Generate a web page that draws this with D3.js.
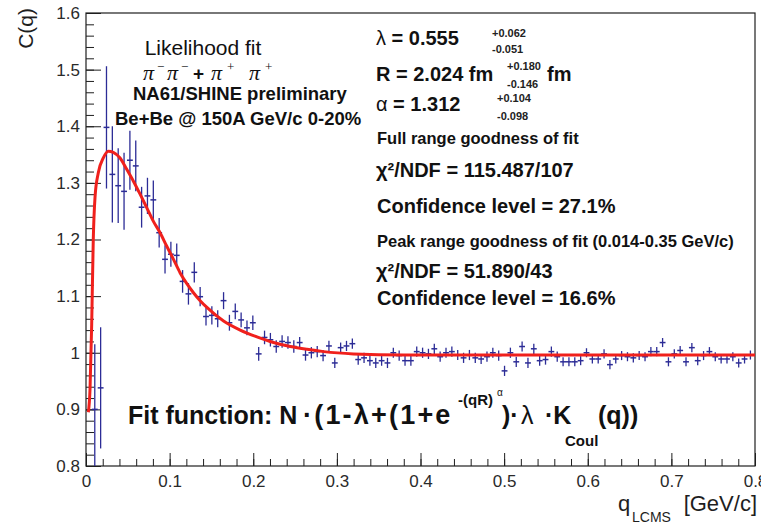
<!DOCTYPE html>
<html>
<head>
<meta charset="utf-8">
<script src="https://cdn.jsdelivr.net/npm/d3@7"></script>
<style>
  html, body { margin: 0; padding: 0; background: #fff; }
  svg { display: block; font-family: "Liberation Sans", Arial, Helvetica, sans-serif; }
</style>
</head>
<body>
<svg id="chart" width="761" height="525"></svg>
<script>

// bin centres, GeV/c
const qBins = [
  0.0105, 0.0175, 0.0245, 0.0315, 0.0385, 0.0455, 0.0525, 0.0595, 0.0665, 0.0735,
  0.0805, 0.0875, 0.0945, 0.1015, 0.1085, 0.1155, 0.1225, 0.1295, 0.1365, 0.1435,
  0.1505, 0.1575, 0.1645, 0.1715, 0.1785, 0.1855, 0.1925, 0.1995, 0.2065, 0.2135,
  0.2205, 0.2275, 0.2345, 0.2415, 0.2485, 0.2555, 0.2625, 0.2695, 0.2765, 0.2835,
  0.2905, 0.2975, 0.3045, 0.3115, 0.3185, 0.3255, 0.3325, 0.3395, 0.3465, 0.3535,
  0.3605, 0.3675, 0.3745, 0.3815, 0.3885, 0.3955, 0.4025, 0.4095, 0.4165, 0.4235,
  0.4305, 0.4375, 0.4445, 0.4515, 0.4585, 0.4655, 0.4725, 0.4795, 0.4865, 0.4935,
  0.5005, 0.5075, 0.5145, 0.5215, 0.5285, 0.5355, 0.5425, 0.5495, 0.5565, 0.5635,
  0.5705, 0.5775, 0.5845, 0.5915, 0.5985, 0.6055, 0.6125, 0.6195, 0.6265, 0.6335,
  0.6405, 0.6475, 0.6545, 0.6615, 0.6685, 0.6755, 0.6825, 0.6895, 0.6965, 0.7035,
  0.7105, 0.7175, 0.7245, 0.7315, 0.7385, 0.7455, 0.7525, 0.7595, 0.7665, 0.7735,
  0.7805, 0.7875, 0.7945
];

const cValues = [
  0.900, 0.938, 1.398, 1.315, 1.295, 1.285, 1.340, 1.330, 1.257, 1.277,
  1.270, 1.212, 1.165, 1.174, 1.172, 1.126, 1.104, 1.142, 1.099, 1.064,
  1.066, 1.060, 1.092, 1.053, 1.073, 1.058, 1.044, 1.053, 0.998, 1.027,
  1.023, 1.011, 1.020, 1.018, 1.011, 1.018, 0.996, 1.000, 1.002, 0.995,
  1.012, 0.982, 1.009, 1.012, 1.016, 0.988, 0.991, 0.986, 0.982, 0.986,
  0.982, 1.000, 0.995, 0.986, 0.986, 1.002, 1.000, 0.998, 1.007, 0.993,
  1.000, 1.002, 0.996, 0.991, 0.996, 0.991, 0.989, 0.993, 1.000, 0.995,
  0.968, 1.000, 0.984, 1.011, 0.982, 1.007, 0.986, 0.988, 1.002, 0.993,
  0.984, 0.984, 0.984, 0.986, 1.000, 0.989, 0.989, 0.998, 0.979, 0.989,
  0.995, 0.993, 0.991, 0.995, 0.993, 1.002, 1.002, 1.018, 0.984, 0.998,
  1.004, 0.984, 1.009, 0.986, 0.995, 1.002, 0.993, 0.989, 0.989, 0.993,
  0.982, 0.989, 0.996
];

const cErrors = [
  0.115, 0.107, 0.108, 0.085, 0.066, 0.068, 0.052, 0.045, 0.036, 0.032,
  0.034, 0.026, 0.025, 0.022, 0.021, 0.020, 0.019, 0.018, 0.017, 0.016,
  0.016, 0.015, 0.015, 0.014, 0.014, 0.013, 0.013, 0.013, 0.012, 0.012,
  0.012, 0.011, 0.011, 0.011, 0.011, 0.010, 0.010, 0.010, 0.010, 0.010,
  0.009, 0.009, 0.009, 0.009, 0.009, 0.009, 0.009, 0.009, 0.009, 0.009,
  0.009, 0.009, 0.009, 0.009, 0.009, 0.009, 0.009, 0.009, 0.009, 0.009,
  0.009, 0.009, 0.009, 0.009, 0.009, 0.009, 0.009, 0.009, 0.009, 0.009,
  0.009, 0.009, 0.009, 0.009, 0.009, 0.009, 0.009, 0.009, 0.009, 0.009,
  0.008, 0.008, 0.008, 0.008, 0.008, 0.008, 0.008, 0.008, 0.008, 0.008,
  0.008, 0.008, 0.008, 0.008, 0.008, 0.008, 0.008, 0.008, 0.008, 0.008,
  0.008, 0.008, 0.008, 0.008, 0.008, 0.008, 0.008, 0.008, 0.008, 0.008,
  0.008, 0.008, 0.008
];

const binHalfWidth = 0.0035;

// fitted curve
const fitQ = [
  0.0028, 0.0048, 0.0068, 0.0087, 0.0108, 0.0147, 0.0207, 0.0266, 0.0326, 0.0407,
  0.0487, 0.0567, 0.0647, 0.0727, 0.0806, 0.0886, 0.0966, 0.1046, 0.1126, 0.1206,
  0.1285, 0.1365, 0.1446, 0.1645, 0.1844, 0.2044, 0.2243, 0.2443, 0.2643, 0.2842,
  0.3200, 0.3800, 0.5000, 0.6500, 0.8000
];
const fitC = [
  0.895, 0.935, 1.050, 1.200, 1.275, 1.318, 1.344, 1.356, 1.354, 1.344,
  1.324, 1.303, 1.280, 1.256, 1.232, 1.212, 1.188, 1.165, 1.141, 1.122,
  1.106, 1.092, 1.080, 1.056, 1.040, 1.028, 1.018, 1.011, 1.006, 1.002,
  0.998, 0.996, 0.996, 0.996, 0.996
];

const xTicks = [0, 0.1, 0.2, 0.3, 0.4, 0.5, 0.6, 0.7, 0.8];
const xTickLabels = ['0', '0.1', '0.2', '0.3', '0.4', '0.5', '0.6', '0.7', '0.8'];
const yTicks = [0.8, 0.9, 1.0, 1.1, 1.2, 1.3, 1.4, 1.5, 1.6];
const yTickLabels = ['0.8', '0.9', '1', '1.1', '1.2', '1.3', '1.4', '1.5', '1.6'];

// ─── Layout ──────────────────────────────────────────────────────────────────

const frame = { left: 86, right: 755, top: 13, bottom: 466 };
const ink = '#1e1e1e';
const pointColor = '#2c2c96';
const fitColor = '#f0201c';

const svg = d3.select('#chart');

const x = d3.scaleLinear().domain([0, 0.8]).range([frame.left, frame.right]);
const y = d3.scaleLinear().domain([0.8, 1.6]).range([frame.bottom, frame.top]);

svg.append('defs').append('clipPath').attr('id', 'plot-clip')
  .append('rect')
  .attr('x', frame.left).attr('y', frame.top)
  .attr('width', frame.right - frame.left)
  .attr('height', frame.bottom - frame.top);

// ─── Axes (ROOT style: ticks inside the frame) ───────────────────────────────

function styleAxis(sel, fontSize) {
  sel.select('.domain').remove();
  sel.selectAll('line').attr('stroke', ink).attr('stroke-width', 1);
  sel.selectAll('text')
    .attr('fill', '#2a2a2a')
    .style('font-family', '"Liberation Sans", Arial, sans-serif')
    .style('font-size', fontSize + 'px');
}

// minor ticks
svg.append('g')
  .attr('transform', `translate(${frame.left},0)`)
  .call(d3.axisLeft(y).ticks(40).tickSize(-8).tickSizeOuter(0).tickFormat(''))
  .call(sel => styleAxis(sel, 17));

svg.append('g')
  .attr('transform', `translate(0,${frame.bottom})`)
  .call(d3.axisBottom(x).ticks(40).tickSize(-7).tickSizeOuter(0).tickFormat(''))
  .call(sel => styleAxis(sel, 17));

// major ticks + labels
svg.append('g')
  .attr('transform', `translate(${frame.left},0)`)
  .call(d3.axisLeft(y).tickValues(yTicks).tickSize(-15).tickSizeOuter(0).tickPadding(6)
    .tickFormat((d, i) => yTickLabels[i]))
  .call(sel => styleAxis(sel, 17));

svg.append('g')
  .attr('transform', `translate(0,${frame.bottom})`)
  .call(d3.axisBottom(x).tickValues(xTicks).tickSize(-13).tickSizeOuter(0).tickPadding(9)
    .tickFormat((d, i) => xTickLabels[i]))
  .call(sel => styleAxis(sel, 17));

// frame
svg.append('rect')
  .attr('x', frame.left).attr('y', frame.top)
  .attr('width', frame.right - frame.left)
  .attr('height', frame.bottom - frame.top)
  .attr('fill', 'none')
  .attr('stroke', ink)
  .attr('stroke-width', 1.2);

// axis titles
svg.append('text')
  .attr('transform', 'translate(33,8) rotate(-90)')
  .attr('text-anchor', 'end')
  .attr('fill', ink)
  .style('font-size', '21px')
  .text('C(q)');

const xTitle = svg.append('text').attr('fill', ink).style('font-size', '22px');
xTitle.append('tspan').attr('x', 618).attr('y', 511).text('q');
xTitle.append('tspan').attr('x', 632).attr('y', 522).style('font-size', '14px').text('LCMS');
xTitle.append('tspan').attr('x', 757).attr('y', 511).attr('text-anchor', 'end').text('[GeV/c]');

// ─── Points with error bars ─────────────────────────────────────────────────

const points = qBins.map((q, i) => ({ q, c: cValues[i], e: cErrors[i] }));
const plot = svg.append('g').attr('clip-path', 'url(#plot-clip)');

plot.selectAll('.err-v')
  .data(points)
  .join('line')
  .attr('class', 'err-v')
  .attr('x1', d => x(d.q)).attr('x2', d => x(d.q))
  .attr('y1', d => y(d.c - d.e)).attr('y2', d => y(d.c + d.e))
  .attr('stroke', pointColor)
  .attr('stroke-width', 1.3);

plot.selectAll('.err-h')
  .data(points)
  .join('line')
  .attr('class', 'err-h')
  .attr('x1', d => x(d.q - binHalfWidth)).attr('x2', d => x(d.q + binHalfWidth))
  .attr('y1', d => y(d.c)).attr('y2', d => y(d.c))
  .attr('stroke', pointColor)
  .attr('stroke-width', 1.5);

// fit line on top
const fitLine = d3.line()
  .x(d => x(d[0]))
  .y(d => y(d[1]))
  .curve(d3.curveMonotoneX);

plot.append('path')
  .datum(fitQ.map((q, i) => [q, fitC[i]]))
  .attr('d', fitLine)
  .attr('fill', 'none')
  .attr('stroke', fitColor)
  .attr('stroke-width', 3)
  .attr('stroke-linejoin', 'round');

// ─── Annotations ─────────────────────────────────────────────────────────────

function label(txt, xPos, yPos, size, weight = 'bold', anchor = 'start') {
  return svg.append('text')
    .attr('x', xPos).attr('y', yPos)
    .attr('text-anchor', anchor)
    .attr('fill', '#111')
    .style('font-size', size + 'px')
    .style('font-weight', weight)
    .text(txt);
}

label('Likelihood fit', 203, 55, 21, 'normal', 'middle');

// π⁻π⁻ + π⁺π⁺
const serif = '"Liberation Serif", "DejaVu Serif", serif';
const pions = [
  { t: 'π', x: 143, dy: 0, s: 22, f: serif, it: true },
  { t: '−', x: 157, dy: -9, s: 13, f: serif, it: false },
  { t: 'π', x: 167, dy: 0, s: 22, f: serif, it: true },
  { t: '−', x: 181, dy: -9, s: 13, f: serif, it: false },
  { t: '+', x: 193, dy: 0, s: 19, f: null, it: false, b: true },
  { t: 'π', x: 211, dy: 0, s: 22, f: serif, it: true },
  { t: '+', x: 227, dy: -9, s: 13, f: serif, it: false },
  { t: 'π', x: 249, dy: 0, s: 22, f: serif, it: true },
  { t: '+', x: 265, dy: -9, s: 13, f: serif, it: false }
];
pions.forEach(p => {
  const t = svg.append('text')
    .attr('x', p.x).attr('y', 80 + p.dy)
    .attr('fill', '#111')
    .style('font-size', p.s + 'px')
    .style('font-style', p.it ? 'italic' : 'normal')
    .style('font-weight', p.b ? 'bold' : 'normal')
    .text(p.t);
  if (p.f) t.style('font-family', p.f);
});

label('NA61/SHINE preliminary', 133, 100, 18.5);
label('Be+Be @ 150A GeV/c 0-20%', 115, 125, 18.5);

// fit parameters with asymmetric errors
const supFont = '"Liberation Sans Narrow", "Liberation Sans", Arial, sans-serif';
function errPair(xPos, yUp, yDown, up, down) {
  [[yUp, up], [yDown, down]].forEach(([yy, t]) => {
    svg.append('text')
      .attr('x', xPos).attr('y', yy)
      .attr('fill', '#222')
      .style('font-family', supFont)
      .style('font-size', '11px')
      .style('font-weight', 'bold')
      .text(t);
  });
}

const lam = label('', 376, 45, 20);
lam.append('tspan').style('font-weight', 'normal').text('λ');
lam.append('tspan').text(' = 0.555');
errPair(492, 37, 53, '+0.062', '-0.051');

label('R = 2.024 fm', 376, 81, 20);
errPair(507, 70, 88, '+0.180', '-0.146');
label('fm', 547, 81, 20);

const alp = label('', 376, 111, 20);
alp.append('tspan').style('font-weight', 'normal').text('α');
alp.append('tspan').text(' = 1.312');
errPair(497, 102, 120, '+0.104', '-0.098');

label('Full range goodness of fit', 377, 144, 16.5);
label('χ²/NDF = 115.487/107', 376, 177, 20);
label('Confidence level = 27.1%', 377, 213, 20);
label('Peak range goodness of fit (0.014-0.35 GeV/c)', 377, 247, 16.5);
label('χ²/NDF = 51.890/43', 376, 278, 20);
label('Confidence level = 16.6%', 377, 305, 20);

// fit function formula
const fBase = 424;
label('Fit function: N', 128, fBase, 25);
label('·(1-λ+(1+e', 303, fBase, 27).style('letter-spacing', '2.2px');
label('-(qR)', 458, 405, 15);
label('α', 497, 396, 10, 'normal');
label(')·', 502, fBase, 25);
label('λ', 521, fBase, 25, 'normal');
label('·K', 545, fBase, 25);
label('Coul', 565, 446, 15);
label('(q))', 598, fBase, 25);
</script>
</body>
</html>
